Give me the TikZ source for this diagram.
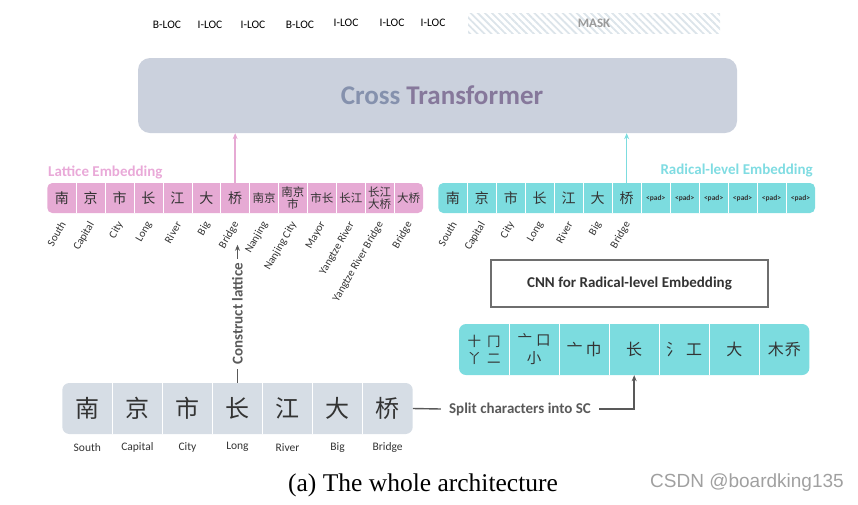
\documentclass[tikz,border=0pt]{standalone}
\usepackage{fontspec}
\setmainfont{Carlito}
\newfontfamily\cjk{Noto Sans CJK SC}
\newfontfamily\capfont{Liberation Serif}
\newfontfamily\wmfont{Liberation Sans}
\usetikzlibrary{arrows.meta,patterns.meta,calc}

\definecolor{ctfill}{HTML}{CBD1DD}
\definecolor{crossblue}{HTML}{8591AD}
\definecolor{transpurp}{HTML}{86789B}
\definecolor{latpink}{HTML}{E6AAD4}
\definecolor{latlabel}{HTML}{E9A9D8}
\definecolor{radcyan}{HTML}{7CDCDF}
\definecolor{radlabel}{HTML}{80DCE2}
\definecolor{botfill}{HTML}{D6DDE5}
\definecolor{txtdark}{HTML}{333333}
\definecolor{arrowgray}{HTML}{595959}
\definecolor{hatch}{HTML}{DCE4EA}
\definecolor{maskgray}{HTML}{9A9A9A}
\definecolor{cnnborder}{HTML}{6E6E6E}
\definecolor{wmgray}{HTML}{A0A0A0}

\begin{document}
\begin{tikzpicture}[x=1pt,y=-1pt,
  tag/.style={inner sep=0pt,font=\fontsize{11.5}{13}\selectfont,text=black},
  rowbg/.style={rounded corners=5pt,inner sep=0pt},
  smallcell/.style={minimum width=28.9pt,minimum height=30pt,inner sep=0pt,align=center,text=txtdark},
  bigcell/.style={minimum width=50.05pt,minimum height=51pt,inner sep=0pt,align=center,text=txtdark},
  sep/.style={white,line width=1pt},
  rotlab/.style={rotate=60,anchor=east,inner sep=0.5pt,font=\fontsize{11}{12}\selectfont,text=txtdark},
  botlab/.style={inner sep=0pt,font=\fontsize{11.5}{13}\selectfont,text=txtdark},
  garrow/.style={arrowgray,line width=1.4pt},
  tip/.style={-{Stealth[length=6pt,width=5pt]}},
  boldlab/.style={font=\bfseries\fontsize{15}{17}\selectfont}
]
\useasboundingbox (0,0) rectangle (858,504);

% ---------- top tags ----------
\node[tag] (tag1) at (167,25) {B-LOC};
\node[tag] (tag2) at (210,25) {I-LOC};
\node[tag] (tag3) at (253,25) {I-LOC};
\node[tag] (tag4) at (300,25) {B-LOC};
\node[tag] (tag5) at (346,23) {I-LOC};
\node[tag] (tag6) at (392,23) {I-LOC};
\node[tag] (tag7) at (433,23) {I-LOC};
\node[minimum width=252pt,minimum height=20pt,inner sep=0pt,
      pattern={Lines[angle=-45,distance=5pt,line width=1.8pt]},pattern color=hatch,
      text=maskgray,font=\bfseries\fontsize{13}{15}\selectfont] (mask) at (594,23) {MASK};

% ---------- Cross Transformer ----------
\node[fill=ctfill,rounded corners=12pt,minimum width=599pt,minimum height=75pt,inner sep=0pt] (ct) at (437.5,95.5) {};
\node[inner sep=0pt,font=\bfseries\fontsize{27}{30}\selectfont] (cttext) at (442,95)
  {\textcolor{crossblue}{Cross} \textcolor{transpurp}{Transformer}};

% ---------- Lattice embedding row ----------
\node[anchor=west,inner sep=0pt,text=latlabel,boldlab] (latname) at (48,172) {Lattice Embedding};
\node[rowbg,fill=latpink,minimum width=375.7pt,minimum height=30pt] (latrow) at (235.15,198) {};
\foreach \t [count=\i] in {南,京,市,长,江,大,桥}
  \node[smallcell,font=\cjk\fontsize{14}{15}\selectfont] (lat\i) at ({47.3+28.9*(\i-0.5)},198) {\t};
\foreach \t [count=\j from 8] in {南京,{南京\\市},市长,长江,{长江\\大桥},大桥}
  \node[smallcell,font=\cjk\fontsize{11.5}{12.5}\selectfont] (lat\j) at ({47.3+28.9*(\j-0.5)},198) {\t};
\foreach \i in {1,...,12}
  \draw[sep] (lat\i.north east) -- (lat\i.south east);
\foreach \t [count=\i] in {South,Capital,City,Long,River,Big,Bridge,Nanjing,Nanjing City,Mayor,Yangtze River,Yangtze River Bridge,Bridge}
  \node[rotlab] (ll\i) at ($(lat\i.south)+(1.5,9)$) {\t};

% ---------- Radical-level embedding row ----------
\node[anchor=east,inner sep=0pt,text=radlabel,boldlab] (radname) at (813,171) {Radical-level Embedding};
\node[rowbg,fill=radcyan,minimum width=376.7pt,minimum height=30pt] (radrow) at (626.65,198) {};
\foreach \t [count=\i] in {南,京,市,长,江,大,桥}
  \node[smallcell,font=\cjk\fontsize{14}{15}\selectfont] (rad\i) at ({438.3+28.98*(\i-0.5)},198) {\t};
\foreach \j in {8,...,13}
  \node[smallcell,font=\bfseries\fontsize{7.5}{8}\selectfont] (rad\j) at ({438.3+28.98*(\j-0.5)},198) {<pad>};
\foreach \i in {1,...,12}
  \draw[sep] (rad\i.north east) -- (rad\i.south east);
\foreach \t [count=\i] in {South,Capital,City,Long,River,Big,Bridge}
  \node[rotlab] (rl\i) at ($(rad\i.south)+(1.5,9)$) {\t};

% ---------- arrows into the transformer ----------
\draw[latpink,line width=1.5pt,tip] (lat7.north) -- (lat7.north |- ct.south);
\draw[radcyan,line width=1.5pt,tip] (rad7.north) -- (rad7.north |- ct.south);

% ---------- CNN box ----------
\node[draw=cnnborder,line width=1.5pt,fill=white,minimum width=277pt,minimum height=47pt,
      inner sep=0pt,text=txtdark,boldlab] (cnn) at (629.5,283.5) {CNN for Radical-level Embedding};

% ---------- radical (SC) row ----------
\node[rowbg,fill=radcyan,rounded corners=7pt,minimum width=350.3pt,minimum height=51pt] (scrow) at (634.15,349.5) {};
\node[bigcell,font=\cjk\fontsize{13.5}{17}\selectfont] (sc1) at ({459+50.05*0.5},349.5) {十\hspace{6pt}冂\\丫\hspace{6pt}二};
\node[bigcell,font=\cjk\fontsize{14.5}{18}\selectfont] (sc2) at ({459+50.05*1.5},349.5) {亠\hspace{4pt}口\\小};
\node[bigcell,font=\cjk\fontsize{16}{18}\selectfont] (sc3) at ({459+50.05*2.5},349.5) {亠\hspace{3pt}巾};
\node[bigcell,font=\cjk\fontsize{16}{18}\selectfont] (sc4) at ({459+50.05*3.5},349.5) {长};
\node[bigcell,font=\cjk\fontsize{16}{18}\selectfont] (sc5) at ({459+50.05*4.5},349.5) {氵\hspace{4pt}工};
\node[bigcell,font=\cjk\fontsize{16}{18}\selectfont] (sc6) at ({459+50.05*5.5},349.5) {大};
\node[bigcell,font=\cjk\fontsize{16}{18}\selectfont] (sc7) at ({459+50.05*6.5},349.5) {木\hspace{1pt}乔};
\foreach \i in {1,...,6}
  \draw[sep] (sc\i.north east) -- (sc\i.south east);

% ---------- bottom character row ----------
\node[rowbg,fill=botfill,rounded corners=7pt,minimum width=350.4pt,minimum height=51pt] (botrow) at (237.5,408.5) {};
\foreach \t [count=\i] in {南,京,市,长,江,大,桥}
  \node[bigcell,font=\cjk\fontsize{24}{26}\selectfont] (bot\i) at ({62.3+50.05*(\i-0.5)},408.5) {\t};
\foreach \i in {1,...,6}
  \draw[sep] (bot\i.north east) -- (bot\i.south east);
\foreach \t [count=\i] in {South,Capital,City,Long,River,Big,Bridge}
  \node[botlab] (bl\i) at ($(bot\i.south)+(0,13)$) {\t};

% ---------- construct lattice ----------
\coordinate (cltop) at ($(bot4.north)+(0,-138)$);
\draw[garrow,tip] (bot4.north) -- node[rotate=90,fill=white,inner xsep=4pt,inner ysep=1pt,text=arrowgray,boldlab] (cl) {Construct lattice} (cltop);

% ---------- split characters ----------
\node[inner xsep=8pt,inner ysep=2pt,text=arrowgray,boldlab] (split) at (520,409) {Split characters into SC};
\draw[garrow] (botrow.east) -- (split.west);
\draw[garrow,tip] (split.east) -| (sc4.south);

% ---------- caption and watermark ----------
\node[inner sep=0pt,font=\capfont\fontsize{25.5}{30}\selectfont] (cap) at (423,485) {(a) The whole architecture};
\node[inner sep=0pt,text=wmgray,font=\wmfont\fontsize{19}{22}\selectfont] (wm) at (747,483) {CSDN @boardking135};
\end{tikzpicture}
\end{document}
